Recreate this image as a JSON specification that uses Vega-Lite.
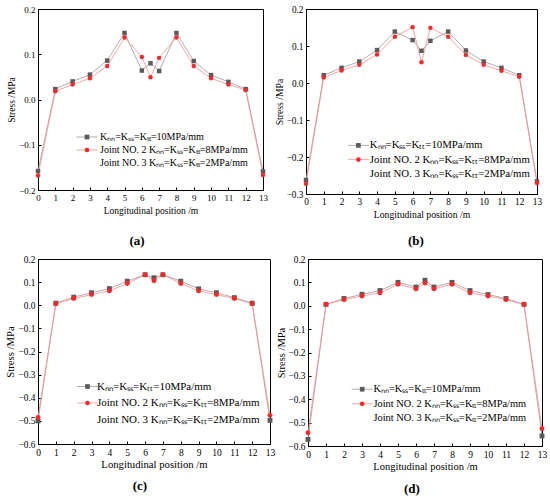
{
  "$schema": "https://vega.github.io/schema/vega-lite/v6.json",
  "background": "white",
  "padding": {"left": 4, "top": 4, "right": 0, "bottom": 0},
  "config": {
    "font": "Liberation Serif",
    "view": {"stroke": "black", "strokeWidth": 1},
    "axis": {
      "grid": false, "domainColor": "black", "domainWidth": 1,
      "tickColor": "black", "tickWidth": 1, "tickSize": -3,
      "labelColor": "black", "titleColor": "black",
      "labelFont": "Liberation Serif", "titleFont": "Liberation Serif",
      "titleFontWeight": "normal", "labelFlush": false
    },
    "axisX": {"labelPadding": 6, "titlePadding": 3},
    "axisY": {"labelPadding": 6, "titlePadding": 2},
    "legend": {
      "orient": "none", "padding": 0, "symbolSize": 22, "symbolStrokeWidth": 0.8,
      "labelFont": "Liberation Serif", "labelColor": "black", "labelLimit": 400
    },
    "title": {
      "orient": "bottom", "font": "Liberation Serif", "fontSize": 13,
      "fontWeight": "bold", "frame": "bounds", "anchor": "middle", "color": "black"
    }
  },
  "datasets": {
    "stress": [
      {"p": "a", "s": "g", "x": 0, "y": -0.158}, {"p": "a", "s": "g", "x": 1, "y": 0.023}, {"p": "a", "s": "g", "x": 2, "y": 0.040},
      {"p": "a", "s": "g", "x": 3, "y": 0.055}, {"p": "a", "s": "g", "x": 4, "y": 0.086}, {"p": "a", "s": "g", "x": 5, "y": 0.147},
      {"p": "a", "s": "g", "x": 6, "y": 0.064}, {"p": "a", "s": "g", "x": 6.5, "y": 0.080}, {"p": "a", "s": "g", "x": 7, "y": 0.063},
      {"p": "a", "s": "g", "x": 8, "y": 0.147}, {"p": "a", "s": "g", "x": 9, "y": 0.085}, {"p": "a", "s": "g", "x": 10, "y": 0.054},
      {"p": "a", "s": "g", "x": 11, "y": 0.039}, {"p": "a", "s": "g", "x": 12, "y": 0.023}, {"p": "a", "s": "g", "x": 13, "y": -0.159},
      {"p": "a", "s": "r", "x": 0, "y": -0.168}, {"p": "a", "s": "r", "x": 1, "y": 0.018}, {"p": "a", "s": "r", "x": 2, "y": 0.033},
      {"p": "a", "s": "r", "x": 3, "y": 0.047}, {"p": "a", "s": "r", "x": 4, "y": 0.074}, {"p": "a", "s": "r", "x": 5, "y": 0.137},
      {"p": "a", "s": "r", "x": 6, "y": 0.094}, {"p": "a", "s": "r", "x": 6.5, "y": 0.049}, {"p": "a", "s": "r", "x": 7, "y": 0.092},
      {"p": "a", "s": "r", "x": 8, "y": 0.137}, {"p": "a", "s": "r", "x": 9, "y": 0.074}, {"p": "a", "s": "r", "x": 10, "y": 0.047},
      {"p": "a", "s": "r", "x": 11, "y": 0.033}, {"p": "a", "s": "r", "x": 12, "y": 0.021}, {"p": "a", "s": "r", "x": 13, "y": -0.167},

      {"p": "b", "s": "g", "x": 0, "y": -0.262}, {"p": "b", "s": "g", "x": 1, "y": 0.021}, {"p": "b", "s": "g", "x": 2, "y": 0.041},
      {"p": "b", "s": "g", "x": 3, "y": 0.058}, {"p": "b", "s": "g", "x": 4, "y": 0.089}, {"p": "b", "s": "g", "x": 5, "y": 0.139},
      {"p": "b", "s": "g", "x": 6, "y": 0.116}, {"p": "b", "s": "g", "x": 6.5, "y": 0.087}, {"p": "b", "s": "g", "x": 7, "y": 0.114},
      {"p": "b", "s": "g", "x": 8, "y": 0.139}, {"p": "b", "s": "g", "x": 9, "y": 0.088}, {"p": "b", "s": "g", "x": 10, "y": 0.058},
      {"p": "b", "s": "g", "x": 11, "y": 0.041}, {"p": "b", "s": "g", "x": 12, "y": 0.021}, {"p": "b", "s": "g", "x": 13, "y": -0.266},
      {"p": "b", "s": "r", "x": 0, "y": -0.272}, {"p": "b", "s": "r", "x": 1, "y": 0.015}, {"p": "b", "s": "r", "x": 2, "y": 0.034},
      {"p": "b", "s": "r", "x": 3, "y": 0.049}, {"p": "b", "s": "r", "x": 4, "y": 0.077}, {"p": "b", "s": "r", "x": 5, "y": 0.125},
      {"p": "b", "s": "r", "x": 6, "y": 0.151}, {"p": "b", "s": "r", "x": 6.5, "y": 0.056}, {"p": "b", "s": "r", "x": 7, "y": 0.149},
      {"p": "b", "s": "r", "x": 8, "y": 0.125}, {"p": "b", "s": "r", "x": 9, "y": 0.076}, {"p": "b", "s": "r", "x": 10, "y": 0.049},
      {"p": "b", "s": "r", "x": 11, "y": 0.033}, {"p": "b", "s": "r", "x": 12, "y": 0.017}, {"p": "b", "s": "r", "x": 13, "y": -0.270},

      {"p": "c", "s": "g", "x": 0, "y": -0.500}, {"p": "c", "s": "g", "x": 1, "y": 0.009}, {"p": "c", "s": "g", "x": 2, "y": 0.035},
      {"p": "c", "s": "g", "x": 3, "y": 0.054}, {"p": "c", "s": "g", "x": 4, "y": 0.072}, {"p": "c", "s": "g", "x": 5, "y": 0.104},
      {"p": "c", "s": "g", "x": 6, "y": 0.132}, {"p": "c", "s": "g", "x": 6.5, "y": 0.119}, {"p": "c", "s": "g", "x": 7, "y": 0.132},
      {"p": "c", "s": "g", "x": 8, "y": 0.104}, {"p": "c", "s": "g", "x": 9, "y": 0.071}, {"p": "c", "s": "g", "x": 10, "y": 0.054},
      {"p": "c", "s": "g", "x": 11, "y": 0.033}, {"p": "c", "s": "g", "x": 12, "y": 0.009}, {"p": "c", "s": "g", "x": 13, "y": -0.498},
      {"p": "c", "s": "r", "x": 0, "y": -0.485}, {"p": "c", "s": "r", "x": 1, "y": 0.006}, {"p": "c", "s": "r", "x": 2, "y": 0.029},
      {"p": "c", "s": "r", "x": 3, "y": 0.046}, {"p": "c", "s": "r", "x": 4, "y": 0.062}, {"p": "c", "s": "r", "x": 5, "y": 0.094},
      {"p": "c", "s": "r", "x": 6, "y": 0.132}, {"p": "c", "s": "r", "x": 6.5, "y": 0.106}, {"p": "c", "s": "r", "x": 7, "y": 0.132},
      {"p": "c", "s": "r", "x": 8, "y": 0.094}, {"p": "c", "s": "r", "x": 9, "y": 0.062}, {"p": "c", "s": "r", "x": 10, "y": 0.046},
      {"p": "c", "s": "r", "x": 11, "y": 0.029}, {"p": "c", "s": "r", "x": 12, "y": 0.007}, {"p": "c", "s": "r", "x": 13, "y": -0.476},

      {"p": "d", "s": "g", "x": 0, "y": -0.572}, {"p": "d", "s": "g", "x": 1, "y": 0.006}, {"p": "d", "s": "g", "x": 2, "y": 0.031},
      {"p": "d", "s": "g", "x": 3, "y": 0.049}, {"p": "d", "s": "g", "x": 4, "y": 0.065}, {"p": "d", "s": "g", "x": 5, "y": 0.100},
      {"p": "d", "s": "g", "x": 6, "y": 0.080}, {"p": "d", "s": "g", "x": 6.5, "y": 0.109}, {"p": "d", "s": "g", "x": 7, "y": 0.080},
      {"p": "d", "s": "g", "x": 8, "y": 0.100}, {"p": "d", "s": "g", "x": 9, "y": 0.065}, {"p": "d", "s": "g", "x": 10, "y": 0.048},
      {"p": "d", "s": "g", "x": 11, "y": 0.031}, {"p": "d", "s": "g", "x": 12, "y": 0.006}, {"p": "d", "s": "g", "x": 13, "y": -0.557},
      {"p": "d", "s": "r", "x": 0, "y": -0.543}, {"p": "d", "s": "r", "x": 1, "y": 0.006}, {"p": "d", "s": "r", "x": 2, "y": 0.026},
      {"p": "d", "s": "r", "x": 3, "y": 0.042}, {"p": "d", "s": "r", "x": 4, "y": 0.055}, {"p": "d", "s": "r", "x": 5, "y": 0.092},
      {"p": "d", "s": "r", "x": 6, "y": 0.072}, {"p": "d", "s": "r", "x": 6.5, "y": 0.097}, {"p": "d", "s": "r", "x": 7, "y": 0.072},
      {"p": "d", "s": "r", "x": 8, "y": 0.092}, {"p": "d", "s": "r", "x": 9, "y": 0.055}, {"p": "d", "s": "r", "x": 10, "y": 0.042},
      {"p": "d", "s": "r", "x": 11, "y": 0.026}, {"p": "d", "s": "r", "x": 12, "y": 0.006}, {"p": "d", "s": "r", "x": 13, "y": -0.526}
    ]
  },
  "spacing": 4,
  "resolve": {
    "scale": {"stroke": "independent", "fill": "independent", "shape": "independent"},
    "legend": {"stroke": "independent", "fill": "independent", "shape": "independent"}
  },
  "vconcat": [
    {
      "spacing": 5,
      "resolve": {
        "scale": {"stroke": "independent", "fill": "independent", "shape": "independent"},
        "legend": {"stroke": "independent", "fill": "independent", "shape": "independent"}
      },
      "hconcat": [
        {
          "width": 225, "height": 181,
          "title": {"text": "(a)", "offset": 20},
          "data": {"name": "stress"},
          "transform": [{"filter": "datum.p == 'a'"}],
          "encoding": {
            "x": {"field": "x", "type": "quantitative", "scale": {"domain": [0, 13], "nice": false},
                  "axis": {"title": "Longitudinal position /m", "values": [0,1,2,3,4,5,6,7,8,9,10,11,12,13], "format": "d", "labelFontSize": 9, "titleFontSize": 9.5}},
            "y": {"field": "y", "type": "quantitative", "scale": {"domain": [-0.2, 0.2], "nice": false},
                  "axis": {"title": "Stress /MPa", "values": [-0.2,-0.1,0,0.1,0.2], "format": ".1f", "labelFontSize": 9, "titleFontSize": 9.5}}
          },
          "layer": [
            {
              "mark": {"type": "line", "strokeWidth": 0.8},
              "encoding": {
                "stroke": {"field": "s", "type": "nominal",
                  "scale": {"domain": ["g", "r"], "range": ["#9a9a9a", "#ff8a8a"]},
                  "legend": {"title": null, "symbolType": "M-4.5,0H4.5", "symbolFillColor": "transparent", "labelColor": "transparent",
                    "legendX": 44, "legendY": 123, "labelFontSize": 10, "labelOffset": 8, "rowPadding": 3,
                    "labelExpr": "datum.label == 'g' ? 'Kₙₙ=Kₛₛ=Kₜₜ=10MPa/mm' : 'Joint NO. 2 Kₙₙ=Kₛₛ=Kₜₜ=8MPa/mm'"}}
              }
            },
            {
              "mark": {"type": "point", "filled": true, "opacity": 1, "size": 20},
              "encoding": {
                "fill": {"field": "s", "type": "nominal",
                  "scale": {"domain": ["g", "r", "n"], "range": ["#5a5a5a", "#ff2626", "transparent"]},
                  "legend": {"title": null, "legendX": 44, "legendY": 123, "labelFontSize": 10, "labelOffset": 8, "rowPadding": 3,
                    "labelExpr": "datum.label == 'g' ? 'Kₙₙ=Kₛₛ=Kₜₜ=10MPa/mm' : datum.label == 'r' ? 'Joint NO. 2 Kₙₙ=Kₛₛ=Kₜₜ=8MPa/mm' : 'Joint NO. 3 Kₙₙ=Kₛₛ=Kₜₜ=2MPa/mm'"}},
                "shape": {"field": "s", "type": "nominal",
                  "scale": {"domain": ["g", "r", "n"], "range": ["square", "circle", "circle"]},
                  "legend": {"title": null, "legendX": 44, "legendY": 123, "labelFontSize": 10, "labelOffset": 8, "rowPadding": 3,
                    "labelExpr": "datum.label == 'g' ? 'Kₙₙ=Kₛₛ=Kₜₜ=10MPa/mm' : datum.label == 'r' ? 'Joint NO. 2 Kₙₙ=Kₛₛ=Kₜₜ=8MPa/mm' : 'Joint NO. 3 Kₙₙ=Kₛₛ=Kₜₜ=2MPa/mm'"}}
              }
            }
          ]
        },
        {
          "width": 231, "height": 185,
          "title": {"text": "(b)", "offset": 16, "dx": 8},
          "data": {"name": "stress"},
          "transform": [{"filter": "datum.p == 'b'"}],
          "encoding": {
            "x": {"field": "x", "type": "quantitative", "scale": {"domain": [0, 13], "nice": false},
                  "axis": {"title": "Longitudinal position /m", "values": [0,1,2,3,4,5,6,7,8,9,10,11,12,13], "format": "d", "labelFontSize": 9.3, "titleFontSize": 9.7}},
            "y": {"field": "y", "type": "quantitative", "scale": {"domain": [-0.3, 0.2], "nice": false},
                  "axis": {"title": "Stress /MPa", "values": [-0.3,-0.2,-0.1,0,0.1,0.2], "format": ".1f", "labelFontSize": 9.3, "titleFontSize": 9.7}}
          },
          "layer": [
            {
              "mark": {"type": "line", "strokeWidth": 0.8},
              "encoding": {
                "stroke": {"field": "s", "type": "nominal",
                  "scale": {"domain": ["g", "r"], "range": ["#9a9a9a", "#ff8a8a"]},
                  "legend": {"title": null, "symbolType": "M-4.5,0H4.5", "symbolFillColor": "transparent", "labelColor": "transparent",
                    "legendX": 47, "legendY": 131, "labelFontSize": 10.8, "labelOffset": 6, "rowPadding": 2.2,
                    "labelExpr": "datum.label == 'g' ? 'Kₙₙ=Kₛₛ=Kₜₜ=10MPa/mm' : 'Joint NO. 2 Kₙₙ=Kₛₛ=Kₜₜ=8MPa/mm'"}}
              }
            },
            {
              "mark": {"type": "point", "filled": true, "opacity": 1, "size": 20},
              "encoding": {
                "fill": {"field": "s", "type": "nominal",
                  "scale": {"domain": ["g", "r", "n"], "range": ["#5a5a5a", "#ff2626", "transparent"]},
                  "legend": {"title": null, "legendX": 47, "legendY": 131, "labelFontSize": 10.8, "labelOffset": 6, "rowPadding": 2.2,
                    "labelExpr": "datum.label == 'g' ? 'Kₙₙ=Kₛₛ=Kₜₜ=10MPa/mm' : datum.label == 'r' ? 'Joint NO. 2 Kₙₙ=Kₛₛ=Kₜₜ=8MPa/mm' : 'Joint NO. 3 Kₙₙ=Kₛₛ=Kₜₜ=2MPa/mm'"}},
                "shape": {"field": "s", "type": "nominal",
                  "scale": {"domain": ["g", "r", "n"], "range": ["square", "circle", "circle"]},
                  "legend": {"title": null, "legendX": 47, "legendY": 131, "labelFontSize": 10.8, "labelOffset": 6, "rowPadding": 2.2,
                    "labelExpr": "datum.label == 'g' ? 'Kₙₙ=Kₛₛ=Kₜₜ=10MPa/mm' : datum.label == 'r' ? 'Joint NO. 2 Kₙₙ=Kₛₛ=Kₜₜ=8MPa/mm' : 'Joint NO. 3 Kₙₙ=Kₛₛ=Kₜₜ=2MPa/mm'"}}
              }
            }
          ]
        }
      ]
    },
    {
      "spacing": 0,
      "resolve": {
        "scale": {"stroke": "independent", "fill": "independent", "shape": "independent"},
        "legend": {"stroke": "independent", "fill": "independent", "shape": "independent"}
      },
      "hconcat": [
        {
          "width": 232, "height": 185,
          "title": {"text": "(c)", "offset": 11},
          "data": {"name": "stress"},
          "transform": [{"filter": "datum.p == 'c'"}],
          "encoding": {
            "x": {"field": "x", "type": "quantitative", "scale": {"domain": [0, 13], "nice": false},
                  "axis": {"title": "Longitudinal position /m", "values": [0,1,2,3,4,5,6,7,8,9,10,11,12,13], "format": "d", "labelFontSize": 9.5, "titleFontSize": 10.7}},
            "y": {"field": "y", "type": "quantitative", "scale": {"domain": [-0.6, 0.2], "nice": false},
                  "axis": {"title": "Stress /MPa", "values": [-0.6,-0.5,-0.4,-0.3,-0.2,-0.1,0,0.1,0.2], "format": ".1f", "labelFontSize": 9.4, "titleFontSize": 10.7}}
          },
          "layer": [
            {
              "mark": {"type": "line", "strokeWidth": 0.8},
              "encoding": {
                "stroke": {"field": "s", "type": "nominal",
                  "scale": {"domain": ["g", "r"], "range": ["#9a9a9a", "#ff8a8a"]},
                  "legend": {"title": null, "symbolType": "M-4.5,0H4.5", "symbolFillColor": "transparent", "labelColor": "transparent",
                    "legendX": 44, "legendY": 122, "labelFontSize": 11, "labelOffset": 4, "rowPadding": 4.5,
                    "labelExpr": "datum.label == 'g' ? 'Kₙₙ=Kₛₛ=Kₜₜ=10MPa/mm' : 'Joint NO. 2 Kₙₙ=Kₛₛ=Kₜₜ=8MPa/mm'"}}
              }
            },
            {
              "mark": {"type": "point", "filled": true, "opacity": 1, "size": 24},
              "encoding": {
                "fill": {"field": "s", "type": "nominal",
                  "scale": {"domain": ["g", "r", "n"], "range": ["#5a5a5a", "#ff2626", "transparent"]},
                  "legend": {"title": null, "legendX": 44, "legendY": 122, "labelFontSize": 11, "labelOffset": 4, "rowPadding": 4.5,
                    "labelExpr": "datum.label == 'g' ? 'Kₙₙ=Kₛₛ=Kₜₜ=10MPa/mm' : datum.label == 'r' ? 'Joint NO. 2 Kₙₙ=Kₛₛ=Kₜₜ=8MPa/mm' : 'Joint NO. 3 Kₙₙ=Kₛₛ=Kₜₜ=2MPa/mm'"}},
                "shape": {"field": "s", "type": "nominal",
                  "scale": {"domain": ["g", "r", "n"], "range": ["square", "circle", "circle"]},
                  "legend": {"title": null, "legendX": 44, "legendY": 122, "labelFontSize": 11, "labelOffset": 4, "rowPadding": 4.5,
                    "labelExpr": "datum.label == 'g' ? 'Kₙₙ=Kₛₛ=Kₜₜ=10MPa/mm' : datum.label == 'r' ? 'Joint NO. 2 Kₙₙ=Kₛₛ=Kₜₜ=8MPa/mm' : 'Joint NO. 3 Kₙₙ=Kₛₛ=Kₜₜ=2MPa/mm'"}}
              }
            }
          ]
        },
        {
          "width": 234, "height": 187,
          "title": {"text": "(d)", "offset": 11},
          "data": {"name": "stress"},
          "transform": [{"filter": "datum.p == 'd'"}],
          "encoding": {
            "x": {"field": "x", "type": "quantitative", "scale": {"domain": [0, 13], "nice": false},
                  "axis": {"title": "Longitudinal position /m", "values": [0,1,2,3,4,5,6,7,8,9,10,11,12,13], "format": "d", "labelFontSize": 9.5, "titleFontSize": 10.5}},
            "y": {"field": "y", "type": "quantitative", "scale": {"domain": [-0.6, 0.2], "nice": false},
                  "axis": {"title": "Stress /MPa", "values": [-0.6,-0.5,-0.4,-0.3,-0.2,-0.1,0,0.1,0.2], "format": ".1f", "labelFontSize": 9.4, "titleFontSize": 10.5, "titlePadding": 1}}
          },
          "layer": [
            {
              "mark": {"type": "line", "strokeWidth": 0.8},
              "encoding": {
                "stroke": {"field": "s", "type": "nominal",
                  "scale": {"domain": ["g", "r"], "range": ["#9a9a9a", "#ff8a8a"]},
                  "legend": {"title": null, "symbolType": "M-4.5,0H4.5", "symbolFillColor": "transparent", "labelColor": "transparent",
                    "legendX": 49, "legendY": 125, "labelFontSize": 10.4, "labelOffset": 6, "rowPadding": 3.6,
                    "labelExpr": "datum.label == 'g' ? 'Kₙₙ=Kₛₛ=Kₜₜ=10MPa/mm' : 'Joint NO. 2 Kₙₙ=Kₛₛ=Kₜₜ=8MPa/mm'"}}
              }
            },
            {
              "mark": {"type": "point", "filled": true, "opacity": 1, "size": 24},
              "encoding": {
                "fill": {"field": "s", "type": "nominal",
                  "scale": {"domain": ["g", "r", "n"], "range": ["#5a5a5a", "#ff2626", "transparent"]},
                  "legend": {"title": null, "legendX": 49, "legendY": 125, "labelFontSize": 10.4, "labelOffset": 6, "rowPadding": 3.6,
                    "labelExpr": "datum.label == 'g' ? 'Kₙₙ=Kₛₛ=Kₜₜ=10MPa/mm' : datum.label == 'r' ? 'Joint NO. 2 Kₙₙ=Kₛₛ=Kₜₜ=8MPa/mm' : 'Joint NO. 3 Kₙₙ=Kₛₛ=Kₜₜ=2MPa/mm'"}},
                "shape": {"field": "s", "type": "nominal",
                  "scale": {"domain": ["g", "r", "n"], "range": ["square", "circle", "circle"]},
                  "legend": {"title": null, "legendX": 49, "legendY": 125, "labelFontSize": 10.4, "labelOffset": 6, "rowPadding": 3.6,
                    "labelExpr": "datum.label == 'g' ? 'Kₙₙ=Kₛₛ=Kₜₜ=10MPa/mm' : datum.label == 'r' ? 'Joint NO. 2 Kₙₙ=Kₛₛ=Kₜₜ=8MPa/mm' : 'Joint NO. 3 Kₙₙ=Kₛₛ=Kₜₜ=2MPa/mm'"}}
              }
            }
          ]
        }
      ]
    }
  ]
}
